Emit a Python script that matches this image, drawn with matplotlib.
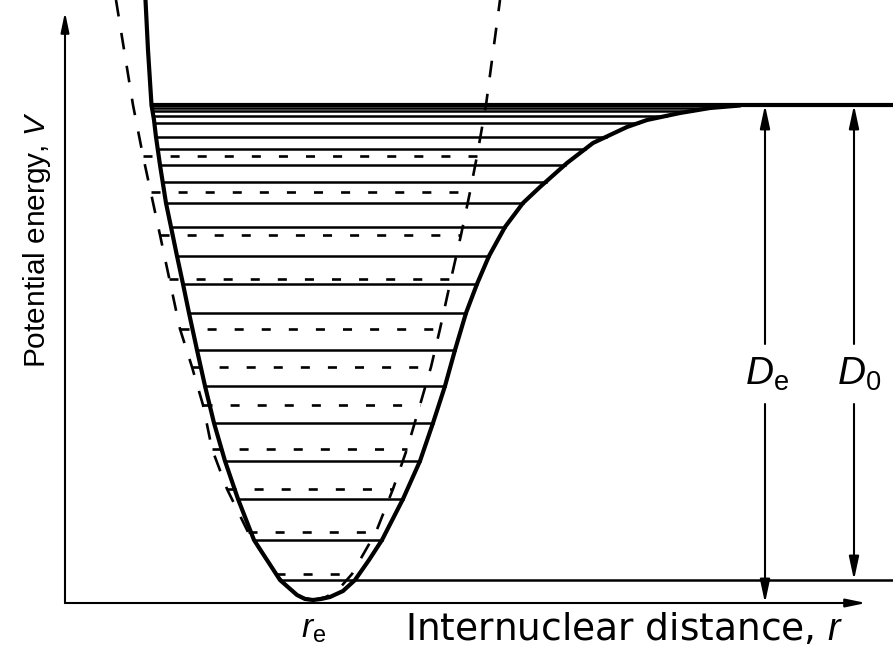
import numpy as np
import matplotlib
matplotlib.use('Agg')
import matplotlib.pyplot as plt

plt.rcParams['lines.scale_dashes'] = False
plt.rcParams['mathtext.fontset'] = 'custom'
plt.rcParams['mathtext.rm'] = 'Liberation Sans'
plt.rcParams['mathtext.it'] = 'Liberation Sans:italic'

# diagram units: r across, V up (V = 0 at the bottom of the well)
r_e = 313
D_e = 495
axis_V = -3
r_axis = 65
r_end = 893

# Morse curve (solid)
morse_left_r = [145.5, 148, 151.5, 154, 156, 160, 166, 171, 177, 183, 189, 197, 205, 214,
                225, 238, 254, 267, 280, 297, 305, 313]
morse_left_V = [600, 550, 495, 480, 463, 435, 397, 373, 344, 316, 287, 250, 214, 177,
                139, 101, 60, 40, 20, 5, 1, 0]
morse_right_r = [313, 321, 330, 343, 355, 369, 382, 403, 420, 433, 445, 455, 466, 477,
                 489, 505, 523, 540, 567, 593, 627, 647, 680, 710, 740]
morse_right_V = [0, 1, 3, 9, 20, 40, 60, 101, 139, 177, 214, 250, 287, 316,
                 344, 373, 397, 413, 437, 457, 473, 480, 487, 492, 494.5]

# harmonic curve (dashed)
harm_left_r = [116, 133, 143, 160, 180, 192, 203, 212, 227, 248, 276, 290, 300, 313]
harm_left_V = [600, 495, 444, 365, 271, 233, 195, 151, 111, 68, 26, 10, 3, 0]
harm_right_r = [313, 326, 338, 352, 376, 393, 407, 420, 431, 440, 451, 461, 470, 477, 486, 500]
harm_right_V = [0, 3, 10, 26, 68, 111, 151, 195, 233, 271, 321, 365, 408, 444, 495, 600]

# vibrational levels
morse_levels = [20, 60, 101, 139, 177, 214, 250, 287, 316, 344, 373, 397, 418, 435,
                451, 463, 477, 484, 489, 492]
harm_levels = [26, 68, 111, 151, 195, 233, 271, 321, 365, 408, 444]

fig = plt.figure(figsize=(8.93, 6.54), dpi=100)
ax = fig.add_axes([0, 0, 1, 1])
ax.set_xlim(0, 893)
ax.set_ylim(-54, 600)
ax.axis('off')

ml_r, ml_V = morse_left_r[::-1], morse_left_V[::-1]
hl_r, hl_V = harm_left_r[::-1], harm_left_V[::-1]

# harmonic levels
for v in harm_levels:
    r1 = np.interp(v, hl_V, hl_r)
    r2 = np.interp(v, harm_right_V, harm_right_r)
    ax.plot([r1, r2], [v, v], color='black', lw=1.9, dashes=(6.5, 13))

# Morse levels
for i, v in enumerate(morse_levels):
    r1 = np.interp(v, ml_V, ml_r)
    r2 = r_end if i == 0 else np.interp(v, morse_right_V, morse_right_r)
    ax.plot([r1, r2], [v, v], color='black', lw=1.8)

# dissociation limit
ax.plot([np.interp(D_e, ml_V, ml_r), r_end], [D_e, D_e], color='black', lw=3)

# curves
ax.plot(harm_left_r, harm_left_V, color='black', lw=1.9, dashes=(12, 12))
ax.plot(harm_right_r, harm_right_V, color='black', lw=1.9, dashes=(12, 12))
ax.plot(morse_left_r + morse_right_r, morse_left_V + morse_right_V,
        color='black', lw=3, solid_capstyle='round', solid_joinstyle='round', zorder=5)

def arrow(x0, y0, x1, y1, hl=1.4, hw=0.3):
    ax.annotate('', xy=(x1, y1), xytext=(x0, y0),
                arrowprops=dict(arrowstyle='-|>,head_length=%s,head_width=%s' % (hl, hw),
                                color='black', lw=1.5, shrinkA=0, shrinkB=0,
                                mutation_scale=10))

# axes
arrow(r_axis, axis_V, r_axis, 588, 1.2, 0.25)
arrow(r_axis, axis_V, 866, axis_V, 1.2, 0.25)

# D_e and D_0
gap_top, gap_bot = 256, 196
arrow(765, gap_top, 765, D_e)
arrow(765, gap_bot, 765, axis_V)
arrow(854, gap_top, 854, D_e)
arrow(854, gap_bot, 854, morse_levels[0])
ax.text(767, 226, r'$D_{\mathrm{e}}$', fontsize=28, ha='center', va='center')
ax.text(859, 226, r'$D_0$', fontsize=28, ha='center', va='center')

# labels
ax.text(37, 360, 'Potential energy, $V$', rotation=90, fontsize=21.5,
        family='Liberation Sans', ha='center', va='center')
ax.text(624, -40, 'Internuclear distance, $r$', fontsize=27,
        family='DejaVu Sans', ha='center', va='baseline')
ax.text(314, -38, r'$r_{\mathrm{e}}$', fontsize=24, ha='center', va='baseline')

fig.savefig('out.png', dpi=100)
